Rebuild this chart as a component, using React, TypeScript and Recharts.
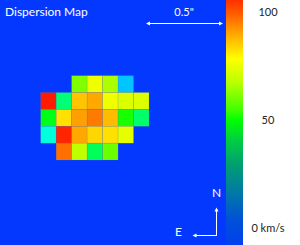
import React from "react";
import {
  ScatterChart,
  Scatter,
  XAxis,
  YAxis,
  ReferenceArea,
  BarChart,
  Bar,
} from "recharts";

// Dispersion values (km/s), one array per map row (top to bottom), null = no data
const row0: (number | null)[] = [null, null, 64, 76, 69, 17, null];
const row1: (number | null)[] = [102, 38, 84, 87, 76, 74, 74];
const row2: (number | null)[] = [48, 81, 88, 92, 85, 53, 39];
const row3: (number | null)[] = [27, 101, 87, 82, 81, 75, null];
const row4: (number | null)[] = [null, 93, 71, 41, 62, null, null];
const rows = [row0, row1, row2, row3, row4];

// Colour bar
const colorbarRange: [number, number] = [-7.9, 105.6];
const colorbarTicks = [0, 50, 100];
const colorbarTickLabels = ["0 km/s", "50", "100"];

const FONT = "Lato, 'Open Sans', sans-serif";
const BLUE = "#0438ff";

// map layout (axis domains, in cell units)
const X_MIN = -2.631;
const X_MAX = 11.978;
const Y_MIN = -4.49;
const Y_MAX = 10.041;
const MAP_W = 226;
const MAP_H = 245;
const CELL_W = MAP_W / (X_MAX - X_MIN);
const CELL_H = MAP_H / (Y_MAX - Y_MIN);

function valueColor(v: number): string {
  const hue = Math.max(0, Math.min(240, (105 - v) * 2.2));
  return `hsl(${hue.toFixed(1)}, 100%, 50%)`;
}

const cells = rows.flatMap((r, ri) =>
  r
    .map((v, ci) => (v == null ? null : { x: ci + 0.5, y: ri + 0.5, v }))
    .filter((d): d is { x: number; y: number; v: number } => d !== null)
);

const CellShape = (props: any) => {
  const { cx, cy, payload } = props;
  return (
    <rect
      x={cx - CELL_W / 2}
      y={cy - CELL_H / 2}
      width={CELL_W}
      height={CELL_H}
      fill={valueColor(payload.v)}
      stroke="rgba(130,130,150,0.35)"
      strokeWidth={0.5}
    />
  );
};

const colorbarData = [{ name: "cb", range: colorbarRange }];

const ColorbarTick = (props: any) => {
  const { y, payload } = props;
  const idx = colorbarTicks.indexOf(payload.value);
  return (
    <text
      x={42}
      y={y}
      dy="0.35em"
      textAnchor="middle"
      fontSize={11}
      fontFamily={FONT}
      fill="#222"
    >
      {colorbarTickLabels[idx]}
    </text>
  );
};

export default function App() {
  return (
    <div
      style={{
        position: "absolute",
        left: 0,
        top: 0,
        width: 300,
        height: 245,
        background: "#fff",
      }}
    >
      <div style={{ position: "absolute", left: 0, top: 0 }}>
        <ScatterChart
          width={MAP_W}
          height={MAP_H}
          margin={{ top: 0, right: 0, bottom: 0, left: 0 }}
        >
          <XAxis
            type="number"
            dataKey="x"
            domain={[X_MIN, X_MAX]}
            allowDataOverflow
            hide
          />
          <YAxis
            type="number"
            dataKey="y"
            domain={[Y_MIN, Y_MAX]}
            allowDataOverflow
            reversed
            hide
          />
          <ReferenceArea
            x1={X_MIN}
            x2={X_MAX}
            y1={Y_MIN}
            y2={Y_MAX}
            fill={BLUE}
            fillOpacity={1}
            stroke="none"
          />
          <Scatter
            data={cells}
            shape={<CellShape />}
            isAnimationActive={false}
          />
        </ScatterChart>
      </div>
      <div style={{ position: "absolute", left: 226, top: 0 }}>
        <BarChart
          width={74}
          height={245}
          data={colorbarData}
          margin={{ top: 0, right: 0, bottom: 0, left: 0 }}
          barCategoryGap={0}
        >
          <defs>
            <linearGradient id="cbGrad" x1="0" y1="0" x2="0" y2="1">
              <stop offset="0" stopColor="#ff3000" />
              <stop offset="0.06" stopColor="#ff6000" />
              <stop offset="0.13" stopColor="#ffa000" />
              <stop offset="0.24" stopColor="#ffff00" />
              <stop offset="0.33" stopColor="#c0ff00" />
              <stop offset="0.45" stopColor="#40ff00" />
              <stop offset="0.49" stopColor="#00ff00" />
              <stop offset="0.57" stopColor="#00d040" />
              <stop offset="0.67" stopColor="#00a070" />
              <stop offset="0.79" stopColor="#0078a8" />
              <stop offset="0.9" stopColor="#0050d8" />
              <stop offset="1" stopColor="#0040f0" />
            </linearGradient>
          </defs>
          <XAxis dataKey="name" hide />
          <YAxis
            orientation="right"
            type="number"
            domain={colorbarRange}
            ticks={colorbarTicks}
            width={57}
            axisLine={false}
            tickLine={false}
            tick={<ColorbarTick />}
            allowDataOverflow
          />
          <Bar dataKey="range" fill="url(#cbGrad)" isAnimationActive={false} />
        </BarChart>
      </div>
      <svg
        width={300}
        height={245}
        style={{ position: "absolute", left: 0, top: 0, pointerEvents: "none" }}
      >
        <text x={5} y={16} fontSize={12} fontFamily={FONT} fill="#fff">
          Dispersion Map
        </text>
        <text
          x={184}
          y={16}
          fontSize={11}
          fontFamily={FONT}
          fill="#fff"
          textAnchor="middle"
        >
          0.5"
        </text>
        <line x1={148} y1={23.5} x2={221} y2={23.5} stroke="#fff" strokeWidth={1} />
        <polygon points="146,23.5 150,21.5 150,25.5" fill="#fff" />
        <polygon points="223,23.5 219,21.5 219,25.5" fill="#fff" />
        <text
          x={216.7}
          y={197}
          fontSize={12}
          fontFamily={FONT}
          fill="#fff"
          textAnchor="middle"
        >
          N
        </text>
        <text
          x={178.5}
          y={236}
          fontSize={12}
          fontFamily={FONT}
          fill="#fff"
          textAnchor="middle"
        >
          E
        </text>
        <line x1={216.5} y1={210} x2={216.5} y2={235.5} stroke="#fff" strokeWidth={1} />
        <line x1={195} y1={235.5} x2={217} y2={235.5} stroke="#fff" strokeWidth={1} />
        <polygon points="216.5,207.5 214.5,211.5 218.5,211.5" fill="#fff" />
        <polygon points="192.5,235.5 196.5,233.5 196.5,237.5" fill="#fff" />
      </svg>
    </div>
  );
}
